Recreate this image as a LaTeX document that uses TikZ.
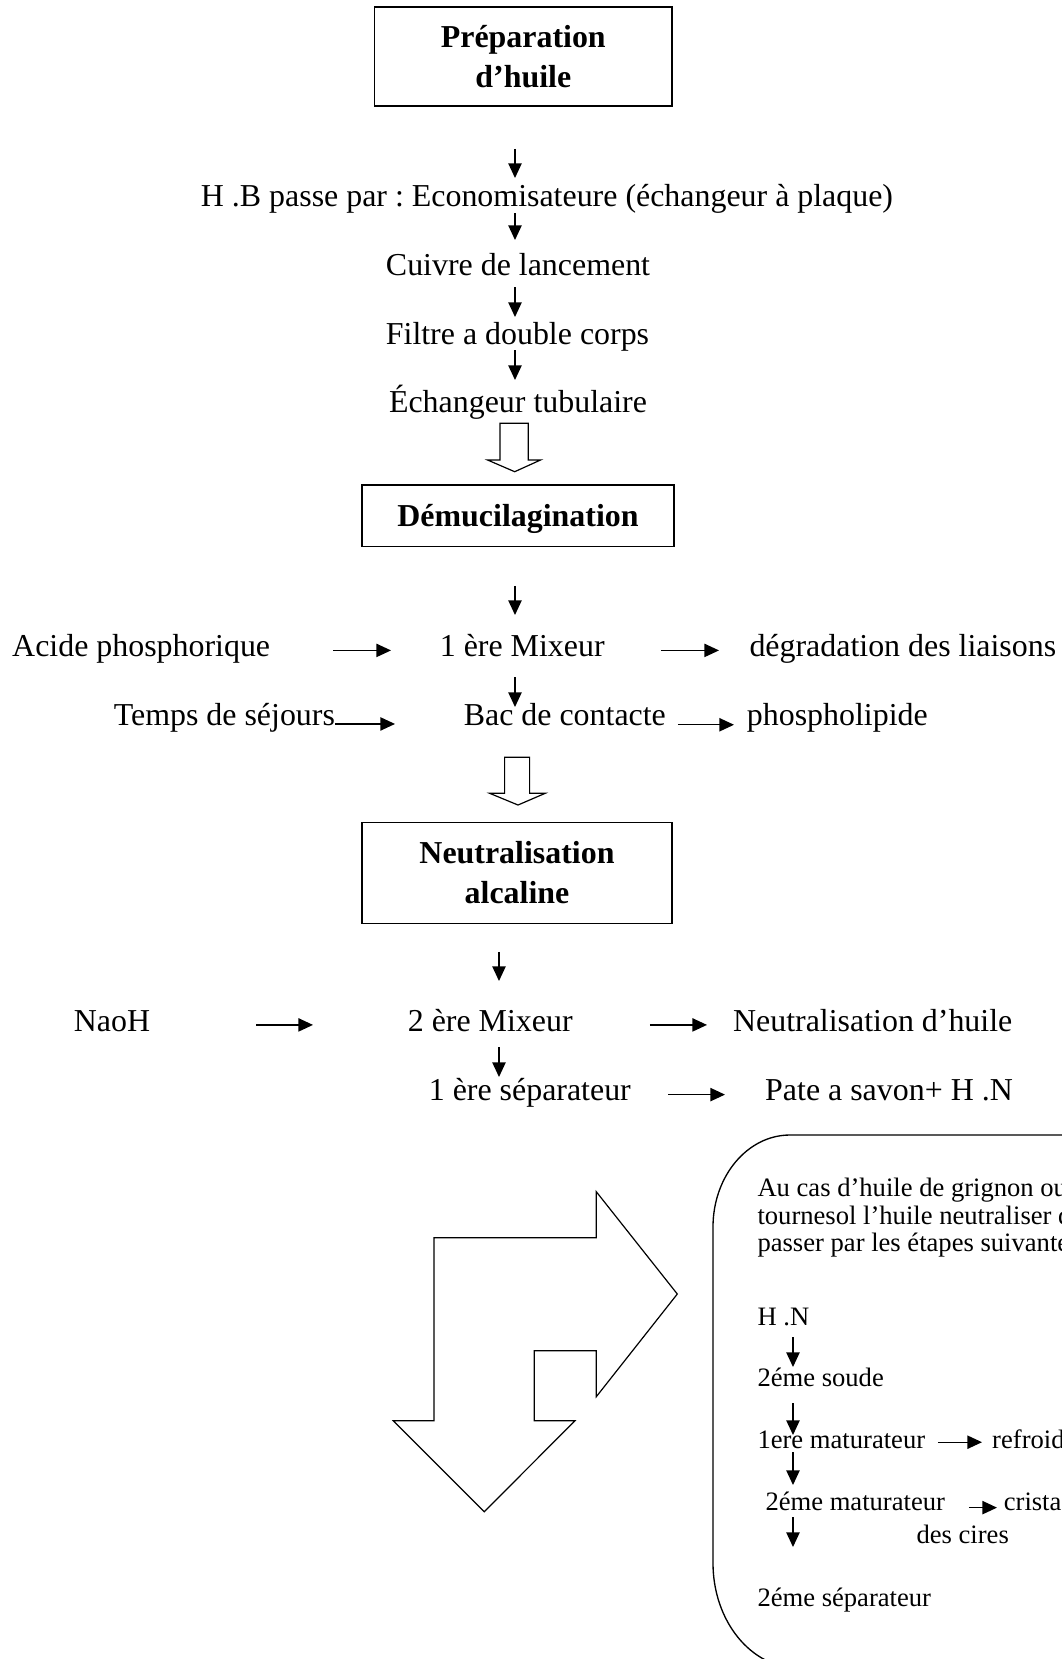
\documentclass[tikz,border=0pt]{standalone}
\usepackage{fontspec}
\setmainfont{Liberation Serif}
\usetikzlibrary{arrows.meta}
\newcommand{\pxu}{0.376pt}
\frenchspacing

\begin{document}
\begin{tikzpicture}[x=0.376pt,y=0.376pt,
        txt/.style={inner sep=0pt,font=\fontsize{12}{14}\selectfont},
        note/.style={inner sep=0pt,font=\fontsize{10}{12}\selectfont},
        stage/.style={draw,line width=0.6pt,inner sep=0pt,align=center,text depth=0pt,font=\fontsize{12}{15}\selectfont\bfseries},
        arr/.style={line width=0.5pt,-{Triangle[length=5.5pt,width=5pt]}},
        hollow/.style={line width=0.45pt,line join=miter}]
                \useasboundingbox (0,0) rectangle (1062,-1659);
                \clip (0,0) rectangle (1062,-1659);
                \coordinate (spine) at (515,0);
                \coordinate (spineb) at (499,0);
                \coordinate (spinec) at (793,0);
                \node[stage,minimum width=297.5*\pxu,minimum height=99*\pxu] (prep) at (523.3,-56.2) {Préparation\\d’huile};
                \node[txt,anchor=base] (hb) at (547,-206.5) {H .B passe par : Economisateure (échangeur à plaque)};
                \node[txt,anchor=base] (cuivre) at (518,-275) {Cuivre de lancement};
                \node[txt,anchor=base] (filtre) at (517.5,-344) {Filtre a double corps};
                \node[txt,anchor=base] (tubul) at (518,-412.3) {Échangeur tubulaire};
                \draw[arr,shorten <=42.3*\pxu,shorten >=28.5*\pxu] (prep.south -| spine) -- (hb.base -| spine);
                \draw[arr,shorten <=6.5*\pxu,shorten >=35*\pxu] (hb.base -| spine) -- (cuivre.base -| spine);
                \draw[arr,shorten <=12*\pxu,shorten >=27*\pxu] (cuivre.base -| spine) -- (filtre.base -| spine);
                \draw[arr,shorten <=6*\pxu,shorten >=32.3*\pxu] (filtre.base -| spine) -- (tubul.base -| spine);
                \draw[hollow] (500,-423.3) -- (528.3,-423.3) -- (528.3,-460) -- (540.5,-460) -- (514.7,-471.7) -- (487.6,-460) -- (500,-460) -- cycle;
                \node[stage,minimum width=312*\pxu,minimum height=61.7*\pxu] (demu) at (518,-515.8) {Démucilagination};
                \node[txt,anchor=base west] (acide) at (11.7,-656.5) {Acide phosphorique};
                \node[txt,anchor=base west] (mix1) at (439.3,-656.5) {1 ère Mixeur};
                \node[txt,anchor=base west] (degr) at (749,-656.5) {dégradation des liaisons};
                \node[txt,anchor=base west] (temps) at (113.3,-725) {Temps de séjours};
                \node[txt,anchor=base west] (bac) at (463.3,-725) {Bac de contacte};
                \node[txt,anchor=base west] (phos) at (746.4,-725) {phospholipide};
                \draw[arr,shorten <=38.3*\pxu,shorten >=41.5*\pxu] (demu.south -| spine) -- (mix1.base -| spine);
                \draw[arr,shorten <=20.5*\pxu,shorten >=18*\pxu] (mix1.base -| spine) -- (bac.base -| spine);
                \draw[arr,shorten <=62.4*\pxu,shorten >=48.3*\pxu] (acide.mid east) -- (mix1.mid west);
                \draw[arr,shorten <=55.8*\pxu,shorten >=30*\pxu] (mix1.mid east) -- (degr.mid west);
                \draw[arr,shorten >=68.3*\pxu] ([yshift=-1.9pt]temps.mid east) -- ([yshift=-1.9pt]bac.mid west);
                \draw[arr,shorten <=11.6*\pxu,shorten >=12.4*\pxu] ([yshift=-2.2pt]bac.mid east) -- ([yshift=-2.2pt]phos.mid west);
                \draw[hollow] (504.6,-757.3) -- (529.6,-757.3) -- (529.6,-793.3) -- (545.2,-793.3) -- (518,-805) -- (489.7,-793.3) -- (504.6,-793.3) -- cycle;
                \node[stage,minimum width=309.5*\pxu,minimum height=101*\pxu] (neutra) at (517,-872.8) {Neutralisation\\alcaline};
                \node[txt,anchor=base west] (naoh) at (73.3,-1031) {NaoH};
                \node[txt,anchor=base west] (mix2) at (407.3,-1031) {2 ère Mixeur};
                \node[txt,anchor=base west] (neuth) at (732.6,-1031) {Neutralisation d’huile};
                \node[txt,anchor=base west] (sep1) at (428.3,-1100.7) {1 ère séparateur};
                \node[txt,anchor=base west] (pate) at (764.7,-1100.7) {Pate a savon+ H .N};
                \draw[arr,shorten <=27.7*\pxu,shorten >=50*\pxu] (neutra.south -| spineb) -- (mix2.base -| spineb);
                \draw[arr,shorten <=16*\pxu,shorten >=23.7*\pxu] (mix2.base -| spineb) -- (sep1.base -| spineb);
                \draw[arr,shorten <=105.5*\pxu,shorten >=94.3*\pxu] (naoh.mid east) -- (mix2.mid west);
                \draw[arr,shorten <=76.8*\pxu,shorten >=25.6*\pxu] (mix2.mid east) -- (neuth.mid west);
                \draw[arr,shorten <=36.7*\pxu,shorten >=39.7*\pxu] (sep1.mid east) -- (pate.mid west);
                \draw[hollow] (434,-1237.7) -- (596.3,-1237.7) -- (596.3,-1191.7) -- (677.3,-1294) -- (596.3,-1396.7) -- (596.3,-1350.7) -- (534.3,-1350.7) -- (534.3,-1420.7) -- (575,-1420.7) -- (484.3,-1511.7) -- (393.3,-1420.7) -- (434,-1420.7) -- cycle;
                \draw[line width=0.5pt] (1120,-1135) -- (790,-1135) arc[start angle=90,end angle=180,x radius=77,y radius=92] -- (713,-1563) arc[start angle=180,end angle=270,x radius=85,y radius=105] -- (1120,-1668);
                \node[note,anchor=base west] (l1) at (757,-1196) {Au cas d’huile de grignon ou};
                \node[note,anchor=base west] (l2) at (757,-1224.3) {tournesol l’huile neutraliser d};
                \node[note,anchor=base west] (l3) at (757,-1251.5) {passer par les étapes suivante};
                \node[note,anchor=base west] (hn) at (757,-1325) {H .N};
                \node[note,anchor=base west] (soude) at (757,-1386.7) {2éme soude};
                \node[note,anchor=base west] (mat1) at (757,-1448.3) {1ere maturateur};
                \node[note,anchor=base west] (refr) at (991.7,-1448.3) {refroid};
                \node[note,anchor=base west] (mat2) at (765,-1510) {2éme maturateur};
                \node[note,anchor=base west] (crist) at (1003.3,-1510) {crista};
                \node[note,anchor=base west] (cires) at (916,-1543.3) {des cires};
                \node[note,anchor=base west] (sep2) at (757,-1606.7) {2éme séparateur};
                \draw[arr,shorten <=12*\pxu,shorten >=19.7*\pxu] (hn.base -| spinec) -- (soude.base -| spinec);
                \draw[arr,shorten <=16.3*\pxu,shorten >=13.3*\pxu] (soude.base -| spinec) -- (mat1.base -| spinec);
                \draw[arr,shorten <=3.7*\pxu,shorten >=25*\pxu] (mat1.base -| spinec) -- (mat2.base -| spinec);
                \draw[arr,shorten <=7*\pxu,shorten >=59.7*\pxu] (mat2.base -| spinec) -- (sep2.base -| spinec);
                \draw[arr,shorten <=12.3*\pxu,shorten >=9.7*\pxu] (mat1.mid east) -- (refr.mid west);
                \draw[arr,shorten <=23.5*\pxu,shorten >=6.3*\pxu] ([yshift=-1.4pt]mat2.mid east) -- ([yshift=-1.4pt]crist.mid west);
            \end{tikzpicture}
\end{document}
